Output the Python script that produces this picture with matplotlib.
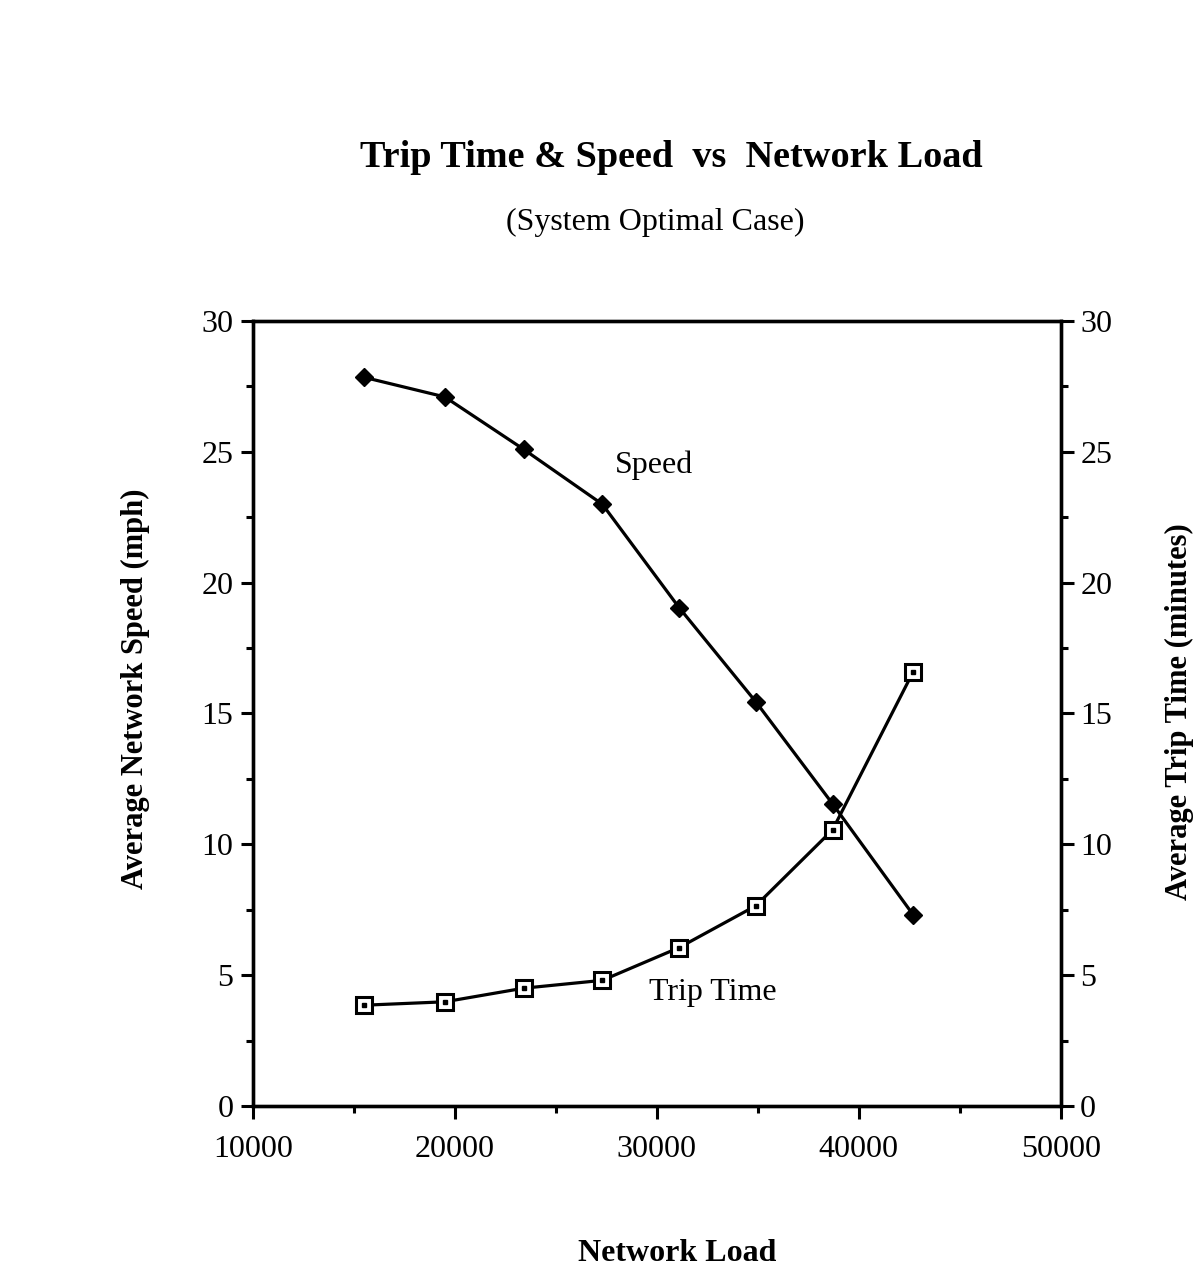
import numpy as np
import matplotlib.pyplot as plt
from matplotlib.ticker import MultipleLocator

# data
network_load = [15500, 19500, 23400, 27300, 31100, 34900, 38700, 42700]
speed_mph = [27.85, 27.1, 25.1, 23.0, 19.05, 15.45, 11.55, 7.3]
trip_time_min = [3.85, 3.98, 4.5, 4.8, 6.05, 7.65, 10.55, 16.6]

plt.rcParams["font.family"] = ["Liberation Serif", "DejaVu Serif"]

fig = plt.figure(figsize=(11.95, 12.69), dpi=100)
ax = fig.add_axes([0.2117, 0.1285, 0.8876 - 0.2117, 0.747 - 0.1285])
ax2 = ax.twinx()

# speed: filled diamonds
ax.plot(network_load, speed_mph, color="black", lw=2.3, marker="D",
        ms=9.5, mfc="black", mec="black", zorder=3)

# trip time: open squares with a dot in the middle
ax2.plot(network_load, trip_time_min, color="black", lw=2.3, marker="s",
         ms=11, mfc="white", mec="black", mew=2.2, zorder=3)
ax2.plot(network_load, trip_time_min, ls="none", marker="s", ms=2.2,
         color="black", zorder=4)

ax.set_xlim(10000, 50000)
ax.set_ylim(0, 30)
ax2.set_ylim(0, 30)

ax.xaxis.set_major_locator(MultipleLocator(10000))
ax.xaxis.set_minor_locator(MultipleLocator(5000))
for a in (ax, ax2):
    a.yaxis.set_major_locator(MultipleLocator(5))
    a.yaxis.set_minor_locator(MultipleLocator(2.5))
    a.tick_params(which="major", direction="out", length=9, width=2.2,
                  labelsize=23, pad=5)
    a.tick_params(which="minor", direction="out", length=5, width=2.2)
    for s in a.spines.values():
        s.set_linewidth(2.4)
ax.tick_params(axis="x", which="major", pad=12)

ax.text(29860, 24.5, "Speed", fontsize=23, ha="center", va="center")
ax2.text(32780, 4.35, "Trip Time", fontsize=23, ha="center", va="center")

ax.set_xlabel("Network Load", fontsize=23, fontweight="bold")
ax.xaxis.set_label_coords(0.525, -0.169)
ax.set_ylabel("Average Network Speed (mph)", fontsize=22, fontweight="bold")
ax.yaxis.set_label_coords(-0.128, 0.532)
ax2.set_ylabel("Average Trip Time (minutes)", fontsize=22, fontweight="bold")
ax2.yaxis.set_label_coords(1.129, 0.502)

fig.text(0.562, 0.876, "Trip Time & Speed  vs  Network Load", fontsize=27.5,
         fontweight="bold", ha="center", va="center")
fig.text(0.548, 0.825, "(System Optimal Case)", fontsize=23,
         ha="center", va="center")

plt.savefig("out.png", dpi=100)
